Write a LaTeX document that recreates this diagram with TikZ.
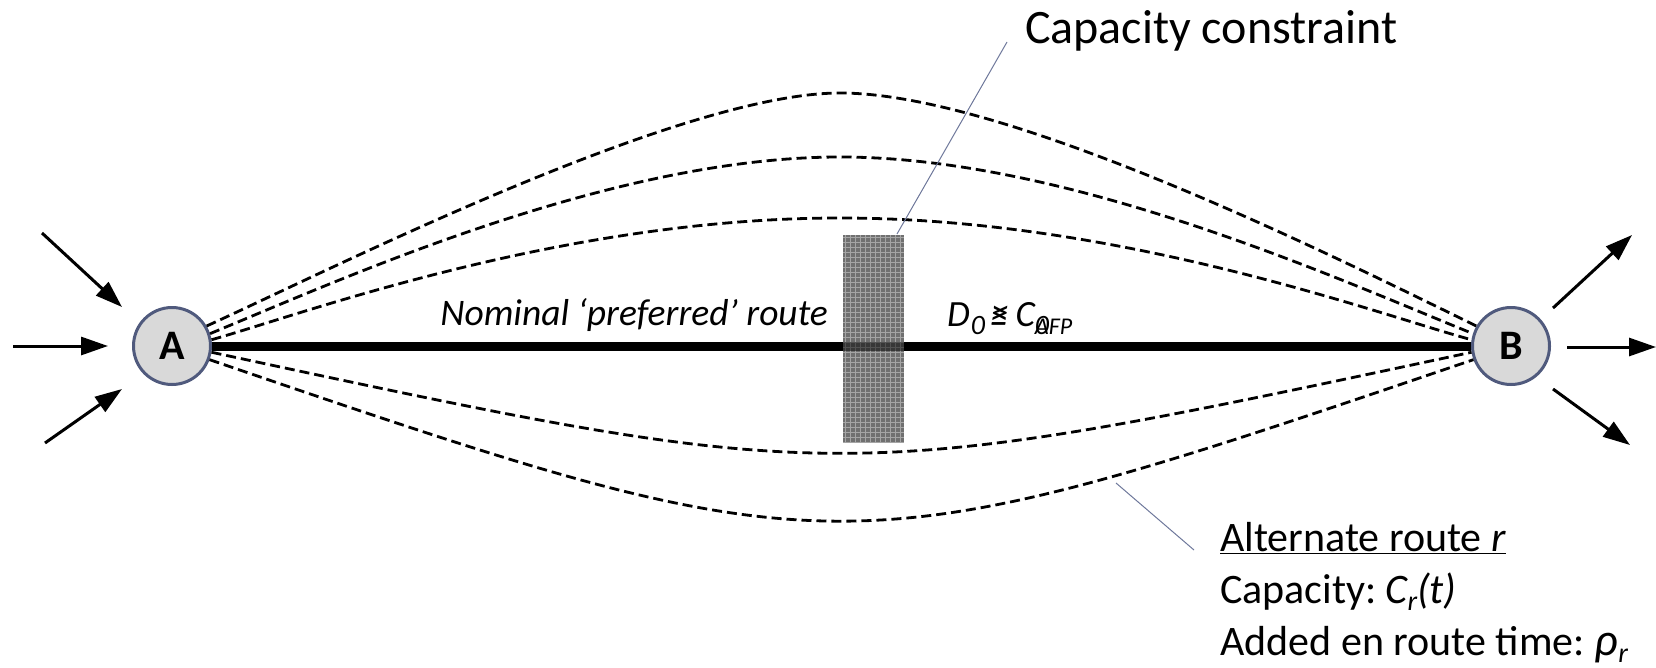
\documentclass[tikz,border=0pt]{standalone}
\usepackage{fontspec}
\setmainfont{Carlito}
\usetikzlibrary{arrows.meta}
\definecolor{nodefill}{RGB}{217,217,217}
\definecolor{nodeedge}{RGB}{80,90,125}
\definecolor{leadercol}{RGB}{110,120,155}
\definecolor{boxgray}{RGB}{112,112,112}
\definecolor{boxline}{RGB}{165,165,165}
\begin{document}
\begin{tikzpicture}[x=1pt,y=-1pt,
  endpoint/.style={circle, draw=nodeedge, line width=3pt, fill=nodefill,
    minimum size=77pt, inner sep=0pt, font=\fontsize{42}{42}\selectfont\bfseries},
  route/.style={dash pattern=on 10pt off 5pt, line width=2.8pt},
  flow/.style={line width=3pt, -{Triangle[length=27pt,width=18pt]}},
  leaderline/.style={draw=leadercol, line width=1pt},
  capbox/.style={fill=boxgray, minimum width=61pt, minimum height=208pt, inner sep=0pt,
    path picture={
      \foreach \k in {0,...,41}
        \draw[boxline, line width=0.9pt] ([yshift=-\k*5pt-2.5pt]path picture bounding box.north west)
          -- ([yshift=-\k*5pt-2.5pt]path picture bounding box.north east);
      \foreach \k in {0,...,12}
        \draw[boxline, line width=0.9pt] ([xshift=\k*5pt+2.5pt]path picture bounding box.north west)
          -- ([xshift=\k*5pt+2.5pt]path picture bounding box.south west);}},
  lbl/.style={inner sep=0pt},
]
\useasboundingbox (0,0) rectangle (1656,667);

\node[endpoint] (A) at (172,346) {A};
\node[endpoint] (B) at (1511,346) {B};

% nominal route
\draw[line width=9pt] (A) -- (B);

% capacity constraint box
\node[capbox] (cap) at (873.5,339) {};
\draw[line width=9pt, opacity=0.5] (cap.west |- A.center) -- (cap.east |- A.center);

% alternate routes
\draw[route] (A.30) .. controls (330,270) and (680,93) .. (840,93)
  .. controls (1010,93) and (1345,262) .. (B.150);
\draw[route] (A.18) .. controls (340,280) and (610,157) .. (840,157)
  .. controls (1070,157) and (1340,280) .. (B.162);
\draw[route] (A.9) .. controls (300,315) and (560,218) .. (840,218)
  .. controls (1120,218) and (1380,315) .. (B.171);
\draw[route] (A.-9) .. controls (840,487) and (840,487) .. (B.-171);
\draw[route] (A.-20) .. controls (840,575) and (840,575) .. (B.-160);

% incoming / outgoing flows
\coordinate (in1) at (42,233);  \coordinate (in1t) at (122,307);
\coordinate (in2) at (13,346);  \coordinate (in2t) at (108,346);
\coordinate (in3) at (45,443);  \coordinate (in3t) at (122,389);
\coordinate (out1) at (1553,308); \coordinate (out1t) at (1632,235);
\coordinate (out2) at (1567,347); \coordinate (out2t) at (1656,347);
\coordinate (out3) at (1553,389); \coordinate (out3t) at (1630,445);
\draw[flow] (in1) -- (in1t);
\draw[flow] (in2) -- (in2t);
\draw[flow] (in3) -- (in3t);
\draw[flow] (out1) -- (out1t);
\draw[flow] (out2) -- (out2t);
\draw[flow] (out3) -- (out3t);

% labels
\node[lbl, anchor=base east, font=\fontsize{37.5}{42}\selectfont\itshape] (nom) at (828,325)
  {Nominal ‘preferred’ route};
\node[lbl, anchor=base west, font=\fontsize{37}{40}\selectfont\itshape] (dlab) at (947,326)
  {D\kern1pt\raisebox{-8pt}{\fontsize{28}{28}\selectfont 0}\kern5pt\rlap{≤}≥\kern7pt C\rlap{\raisebox{-8pt}{\fontsize{28}{28}\selectfont 0}}\raisebox{-8pt}{\fontsize{24}{24}\selectfont AFP}};

\node[lbl, anchor=base west, font=\fontsize{48}{52}\selectfont] (cc) at (1025,43) {Capacity constraint};
\coordinate (cctail) at (1007,42);
\coordinate (cchead) at (897,234);
\draw[leaderline] (cctail) -- (cchead);

\node[lbl, anchor=base west, font=\fontsize{42}{48}\selectfont] (alt1) at (1220,551)
  {\underline{Alternate route \textit{r}}};
\node[lbl, anchor=base west, font=\fontsize{42}{48}\selectfont] (alt2) at (1220,603)
  {Capacity:\kern9pt\textit{C\raisebox{-7pt}{\fontsize{28}{28}\selectfont r}(t)}};
\node[lbl, anchor=base west, font=\fontsize{42}{48}\selectfont] (alt3) at (1220,655)
  {Added en route time:\kern10pt\textit{\fontsize{46}{48}\selectfont ρ\raisebox{-7pt}{\fontsize{28}{28}\selectfont r}}};
\coordinate (alttail) at (1194,550);
\coordinate (althead) at (1116,483);
\draw[leaderline] (alttail) -- (althead);
\end{tikzpicture}
\end{document}
